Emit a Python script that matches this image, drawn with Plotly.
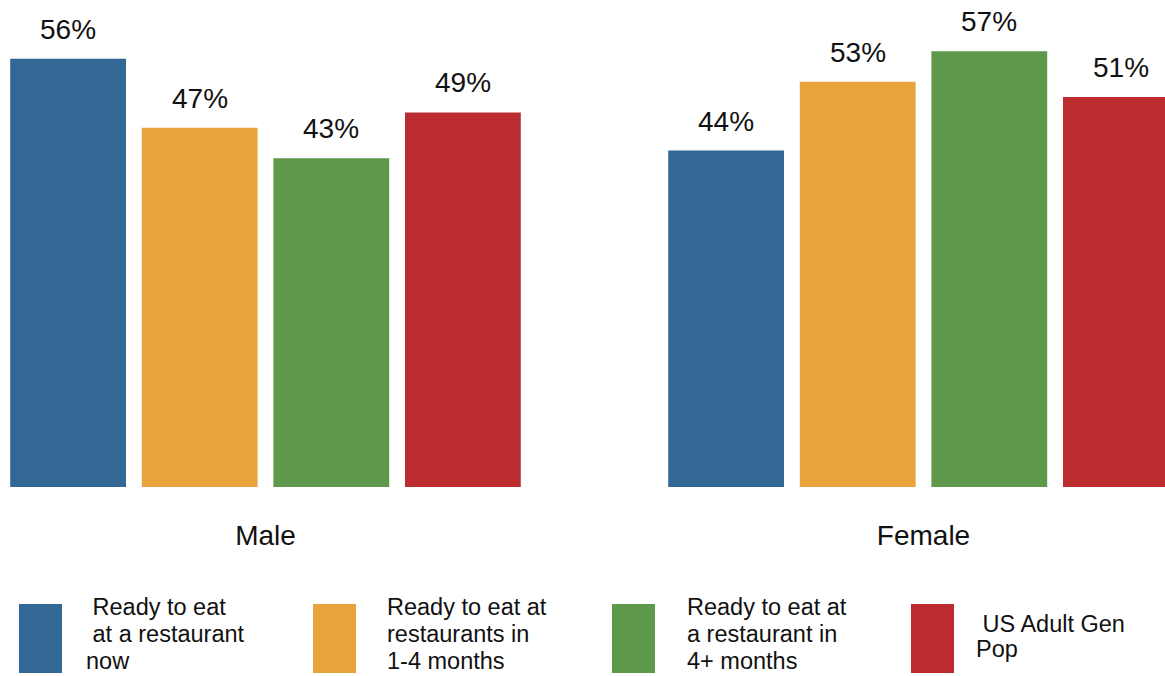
import plotly.graph_objects as go

# --- data ---------------------------------------------------------------
groups = ["Male", "Female"]
series_names = [
    "Ready to eat at a restaurant now",
    "Ready to eat at restaurants in 1-4 months",
    "Ready to eat at a restaurant in 4+ months",
    "US Adult Gen Pop",
]
# legend wording, one entry per line
legend_lines = [
    ["\u00a0Ready to eat", "\u00a0at a restaurant", "now"],
    ["Ready to eat at", "restaurants in", "1-4 months"],
    ["Ready to eat at", "a restaurant in", "4+ months"],
    ["\u00a0US Adult Gen", "Pop"],
]
values = [
    [56, 44],  # ready now
    [47, 53],  # 1-4 months
    [43, 57],  # 4+ months
    [49, 51],  # gen pop
]
colors = ["#336896", "#e8a33d", "#5e984a", "#bc2d32"]

# --- layout constants ---------------------------------------------------
W, H = 1165, 676
PLOT_BOTTOM = 487          # pixel row of the bar baseline
FONT = "Liberation Sans, Arial, sans-serif"
BARGAP = 0.2
GROUPGAP = 0.12
n_series = len(series_names)
slot = (1 - BARGAP) / n_series


def px_x(x):
    return x / W


def px_y(y):
    return (PLOT_BOTTOM - y) / PLOT_BOTTOM


fig = go.Figure()
for name, vals, col in zip(series_names, values, colors):
    fig.add_trace(go.Bar(
        name=name, x=groups, y=vals, marker=dict(color=col, line=dict(width=0)),
        hoverinfo="skip", showlegend=False,
    ))

annotations = []
# value labels above each bar
for si, vals in enumerate(values):
    for gi, v in enumerate(vals):
        annotations.append(dict(
            x=gi + (si - (n_series - 1) / 2) * slot, y=v, xref="x", yref="y",
            text=f"{v}%", showarrow=False, yanchor="bottom", yshift=12,
            font=dict(family=FONT, size=28, color="#111111"),
        ))

# hand-built legend: big swatches with multi-line captions
swatch_x = [19, 313, 612, 911]
text_x = [85, 386, 686, 975]
shapes = []
for i, col in enumerate(colors):
    shapes.append(dict(
        type="rect", xref="paper", yref="paper",
        x0=px_x(swatch_x[i]), x1=px_x(swatch_x[i] + 43),
        y0=px_y(673), y1=px_y(604),
        fillcolor=col, line=dict(width=0),
    ))
    lines = legend_lines[i]
    step = 27 if len(lines) > 2 else 25
    center = 634 if len(lines) > 2 else 636
    for li, line in enumerate(lines):
        yc = center + (li - (len(lines) - 1) / 2) * step
        annotations.append(dict(
            x=px_x(text_x[i]), y=px_y(yc), xref="paper", yref="paper",
            text=line, showarrow=False, xanchor="left", yanchor="middle",
            borderpad=0,
            font=dict(family=FONT, size=23.5, color="#111111"),
        ))

fig.update_layout(
    width=W, height=H,
    margin=dict(l=0, r=0, t=0, b=H - PLOT_BOTTOM, pad=0),
    paper_bgcolor="white", plot_bgcolor="white",
    barmode="group", bargap=BARGAP, bargroupgap=GROUPGAP,
    xaxis=dict(
        type="category", range=[-265.5 / 658, (W - 265.5) / 658],
        showgrid=False, zeroline=False, showline=False, ticks="",
        tickfont=dict(family=FONT, size=28, color="#111111"),
        ticklabelstandoff=29,
    ),
    yaxis=dict(range=[0, 63.7], visible=False, fixedrange=True),
    annotations=annotations, shapes=shapes,
    showlegend=False,
)

fig.write_html("out.html")
